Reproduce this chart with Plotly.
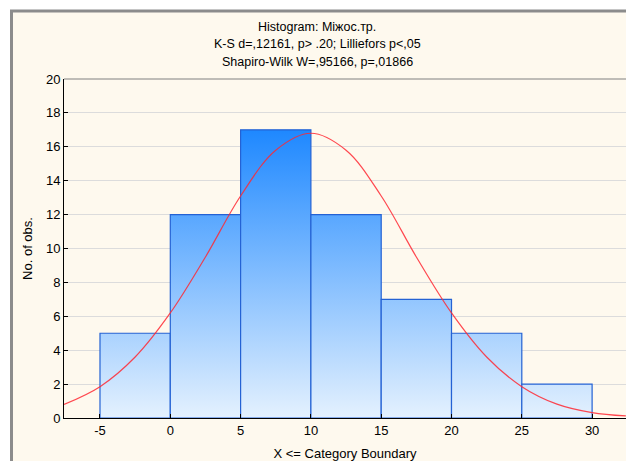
import plotly.graph_objects as go

# Histogram data (bin edges and counts)
bin_edges = [-5, 0, 5, 10, 15, 20, 25, 30]
counts = [5, 12, 17, 12, 7, 5, 2]

# Expected normal curve
curve_x = [-7.56, -5, -2.5, 0, 2.5, 5, 7.5, 10, 12.5, 15, 17.5, 20, 22.5, 25, 27.5, 30, 32.4]
curve_y = [0.8, 1.85, 3.6, 6.2, 9.5, 13.1, 15.8, 16.8, 15.8, 13.1, 9.5, 6.2, 3.6, 1.85, 0.82, 0.32, 0.12]

title_lines = ["Histogram: Міжос.тр.",
               "K-S d=,12161, p> .20; Lilliefors p<,05",
               "Shapiro-Wilk W=,95166, p=,01866"]
x_ticks = [-5, 0, 5, 10, 15, 20, 25, 30]
x_tick_labels = ["-5", "0", "5", "10", "15", "20", "25", "30"]
y_ticks = list(range(0, 21, 2))

W, H = 626, 461
L, R, T, B = 64, 0, 79, 43
FONT = "Liberation Sans, Arial, sans-serif"

fig = go.Figure()

grad = dict(type="vertical", colorscale=[[0, "#E4F1FE"], [1, "#1E88FF"]], start=0, stop=17)
for i, c in enumerate(counts):
    l, r = bin_edges[i], bin_edges[i + 1]
    fig.add_trace(go.Scatter(
        x=[l, l, r, r, l], y=[0, c, c, 0, 0],
        mode="lines", fill="toself", fillgradient=grad,
        line=dict(color="#2462D4", width=1.2),
        showlegend=False, hoverinfo="skip"))

fig.add_trace(go.Scatter(x=curve_x, y=curve_y, mode="lines",
                         line=dict(color="rgba(255,40,50,0.85)", width=1.2, shape="spline"),
                         showlegend=False))

def px2paper_x(px):
    return (px - L) / (W - L - R)

def px2paper_y(py):
    return (H - B - py) / (H - T - B)

shapes = [
    # outer cream frame with gray border
    dict(type="rect", xref="paper", yref="paper", layer="below",
         x0=px2paper_x(11.5), x1=px2paper_x(700), y0=px2paper_y(11), y1=px2paper_y(520),
         fillcolor="#FEF9EE", line=dict(color="#8C8C8C", width=3)),
    # top plot border
    dict(type="line", xref="paper", yref="paper", x0=0, x1=1, y0=1, y1=1,
         line=dict(color="#808080", width=1)),
]

annotations = []
for k, t in enumerate(title_lines):
    annotations.append(dict(text=t, xref="paper", yref="paper",
                            x=px2paper_x(317), y=px2paper_y(27 + 17.5 * k),
                            xanchor="center", yanchor="middle", showarrow=False,
                            font=dict(family=FONT, size=12.5, color="#000")))

fig.update_layout(
    width=W, height=H,
    margin=dict(l=L, r=R, t=T, b=B),
    paper_bgcolor="#FFFFFF", plot_bgcolor="#FFFFFF",
    shapes=shapes, annotations=annotations,
    font=dict(family=FONT, size=13, color="#000"),
    xaxis=dict(range=[-7.56, 32.41], tickvals=x_ticks, ticktext=x_tick_labels,
               showgrid=False, zeroline=False,
               showline=True, linecolor="#000", linewidth=1, ticks="inside", ticklen=4,
               tickcolor="#000", tickfont=dict(size=13),
               title=dict(text="X <= Category Boundary", font=dict(size=13), standoff=12)),
    yaxis=dict(range=[0, 20], tickvals=y_ticks, showgrid=True, gridcolor="#DCDCDC",
               gridwidth=1, zeroline=False, showline=True, linecolor="#000", linewidth=1,
               ticks="inside", ticklen=4, tickcolor="#000", tickfont=dict(size=13),
               title=dict(text="No. of obs.", font=dict(size=13), standoff=10)),
)

fig.write_html("out.html")
